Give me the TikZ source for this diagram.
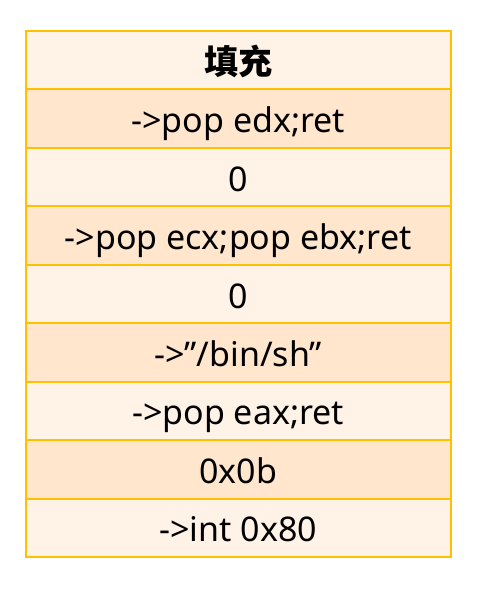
\documentclass[tikz,border=0pt]{standalone}
\usepackage{fontspec}
\setmainfont{Noto Sans}
\newfontfamily\cjk{Noto Sans CJK SC}
\definecolor{cellline}{HTML}{FFC000}
\definecolor{celllight}{HTML}{FFF2E6}
\definecolor{celldark}{HTML}{FFE6CC}
\tikzset{
  cell/.style={draw=cellline, line width=2pt, minimum width=425.5pt,
    minimum height=58.44pt, inner sep=0pt, text height=28pt, text depth=0pt,
    font=\fontsize{34}{40}\selectfont},
  light/.style={cell, fill=celllight},
  dark/.style={cell, fill=celldark}
}
\begin{document}
\begin{tikzpicture}[x=1pt,y=1pt]
      \useasboundingbox (0,0) rectangle (484,-591);
      \draw
        (238.25,-60.22) node[light] (r0){\cjk\bfseries 填充}
        (238.25,-118.66) node[dark] (r1){->pop edx;ret}
        (238.25,-177.11) node[light] (r2){0}
        (238.25,-235.55) node[dark] (r3){->pop ecx;pop ebx;ret}
        (238.25,-294.00) node[light] (r4){0}
        (238.25,-352.44) node[dark] (r5){->”/bin/sh”}
        (238.25,-410.89) node[light] (r6){->pop eax;ret}
        (238.25,-469.33) node[dark] (r7){0x0b}
        (238.25,-527.78) node[light] (r8){->int 0x80};
    \end{tikzpicture}
\end{document}
